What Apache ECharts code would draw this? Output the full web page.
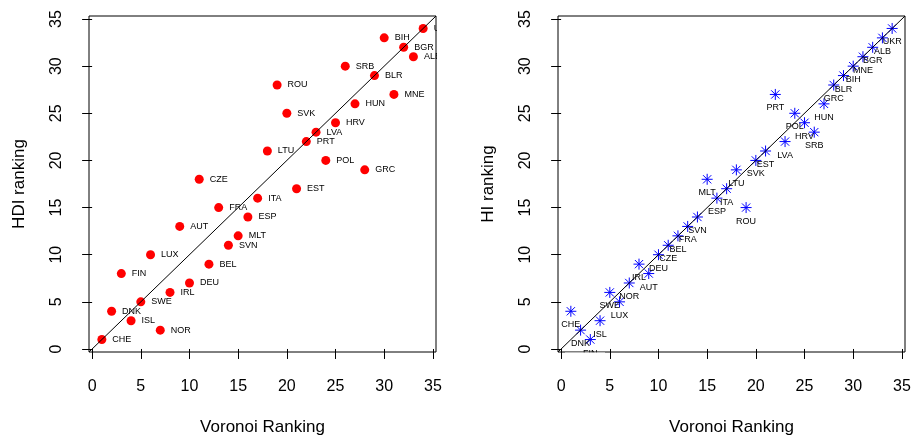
<!DOCTYPE html>
<html>
<head>
<meta charset="utf-8">
<script src="https://cdn.jsdelivr.net/npm/echarts@6/dist/echarts.min.js"></script>
<style>
  html, body { margin: 0; padding: 0; background: #fff; }
  #chart { width: 917px; height: 441px; }
</style>
</head>
<body>
<div id="chart"></div>
<script>
// country codes, in Voronoi order
const countries = ['CHE', 'DNK', 'FIN', 'ISL', 'SWE', 'LUX', 'NOR', 'IRL', 'AUT', 'DEU',
  'CZE', 'BEL', 'FRA', 'SVN', 'MLT', 'ESP', 'ITA', 'LTU', 'ROU', 'SVK',
  'EST', 'PRT', 'LVA', 'POL', 'HRV', 'SRB', 'HUN', 'GRC', 'BLR', 'BIH',
  'MNE', 'BGR', 'ALB', 'UKR']
const voronoiRank = [1, 2, 3, 4, 5, 6, 7, 8, 9, 10, 11, 12, 13, 14, 15, 16, 17, 18, 19, 20,
  21, 22, 23, 24, 25, 26, 27, 28, 29, 30, 31, 32, 33, 34]
const hdiRank = [1, 4, 8, 3, 5, 10, 2, 6, 13, 7, 18, 9, 15, 11, 12, 14, 16, 21, 28, 25,
  17, 22, 23, 20, 24, 30, 26, 19, 29, 33, 27, 32, 31, 34]
const hiRank = [4, 2, 1, 3, 6, 5, 7, 9, 8, 10, 11, 12, 13, 14, 18, 16, 17, 19, 15, 20,
  21, 27, 22, 25, 24, 23, 26, 28, 29, 30, 31, 32, 33, 34]
const ticks = [0, 5, 10, 15, 20, 25, 30, 35]

// R style axis range: data range padded by 4%
const AX_MIN = -0.32
const AX_MAX = 35.32
const refLine = [[AX_MIN, AX_MIN], [AX_MAX, AX_MAX]]

const font = '"Liberation Sans", Arial, Helvetica, sans-serif'

function pairs(ys) {
  return voronoiRank.map(function (x, i) { return [x, ys[i], countries[i]] })
}

function xAxisFor(idx) {
  return {
    gridIndex: idx,
    type: 'value',
    min: AX_MIN,
    max: AX_MAX,
    z: 10,
    name: 'Voronoi Ranking',
    nameLocation: 'middle',
    nameGap: 67,
    nameTextStyle: { fontSize: 17, color: '#000', fontFamily: font },
    axisLine: { show: false },
    axisTick: { show: true, length: 10, customValues: ticks, lineStyle: { color: '#000' } },
    axisLabel: { customValues: ticks, fontSize: 16, color: '#000', fontFamily: font, margin: 27 },
    splitLine: { show: false }
  }
}

function yAxisFor(idx, title) {
  return {
    gridIndex: idx,
    type: 'value',
    min: AX_MIN,
    max: AX_MAX,
    z: 10,
    name: title,
    nameLocation: 'middle',
    nameGap: 61,
    nameTextStyle: { fontSize: 17, color: '#000', fontFamily: font },
    axisLine: { show: false },
    axisTick: { show: true, length: 10, customValues: ticks, lineStyle: { color: '#000' } },
    axisLabel: { customValues: ticks, rotate: 90, fontSize: 16, color: '#000', fontFamily: font, margin: 24 },
    splitLine: { show: false }
  }
}

let chart = echarts.init(document.getElementById('chart'), null, { renderer: 'canvas' })
let option = {
  backgroundColor: '#fff',
  animation: false,
  grid: [
    { left: 89, right: 481, top: 16, bottom: 89, show: true, borderColor: '#000', borderWidth: 1, outerBoundsMode: 'none' },
    { left: 558, right: 12, top: 16, bottom: 89, show: true, borderColor: '#000', borderWidth: 1, outerBoundsMode: 'none' }
  ],
  xAxis: [xAxisFor(0), xAxisFor(1)],
  yAxis: [yAxisFor(0, 'HDI ranking'), yAxisFor(1, 'HI ranking')],
  // hide label overflow outside the plot boxes, like R clipping
  graphic: [
    { type: 'rect', z: 5, silent: true, shape: { x: 437, y: 0, width: 38, height: 352 }, style: { fill: '#fff' } },
    { type: 'rect', z: 5, silent: true, shape: { x: 565, y: 352.5, width: 40, height: 12 }, style: { fill: '#fff' } }
  ],
  series: [
    {
      type: 'scatter',
      xAxisIndex: 0,
      yAxisIndex: 0,
      data: pairs(hdiRank),
      symbol: 'circle',
      symbolSize: 9,
      itemStyle: { color: '#ff0000', opacity: 1 },
      label: {
        show: true,
        position: 'right',
        distance: 6,
        formatter: function (p) { return p.data[2] },
        fontSize: 9,
        color: '#000',
        fontFamily: font
      },
      z: 2
    },
    {
      type: 'scatter',
      xAxisIndex: 1,
      yAxisIndex: 1,
      data: pairs(hiRank),
      symbol: 'path://M0,-10L0,10M-10,0L10,0M-7.5,-7.5L7.5,7.5M-7.5,7.5L7.5,-7.5',
      symbolSize: 11,
      itemStyle: { color: 'transparent', borderColor: '#0000ff', borderWidth: 1, opacity: 1 },
      label: {
        show: true,
        position: 'bottom',
        distance: 3,
        formatter: function (p) { return p.data[2] },
        fontSize: 9,
        color: '#000',
        fontFamily: font
      },
      z: 2
    },
    {
      type: 'line',
      xAxisIndex: 0,
      yAxisIndex: 0,
      data: refLine,
      symbol: 'none',
      silent: true,
      lineStyle: { color: '#000', width: 1 },
      z: 3
    },
    {
      type: 'line',
      xAxisIndex: 1,
      yAxisIndex: 1,
      data: refLine,
      symbol: 'none',
      silent: true,
      lineStyle: { color: '#000', width: 1 },
      z: 3
    }
  ]
}
chart.setOption(option)
</script>
</body>
</html>
